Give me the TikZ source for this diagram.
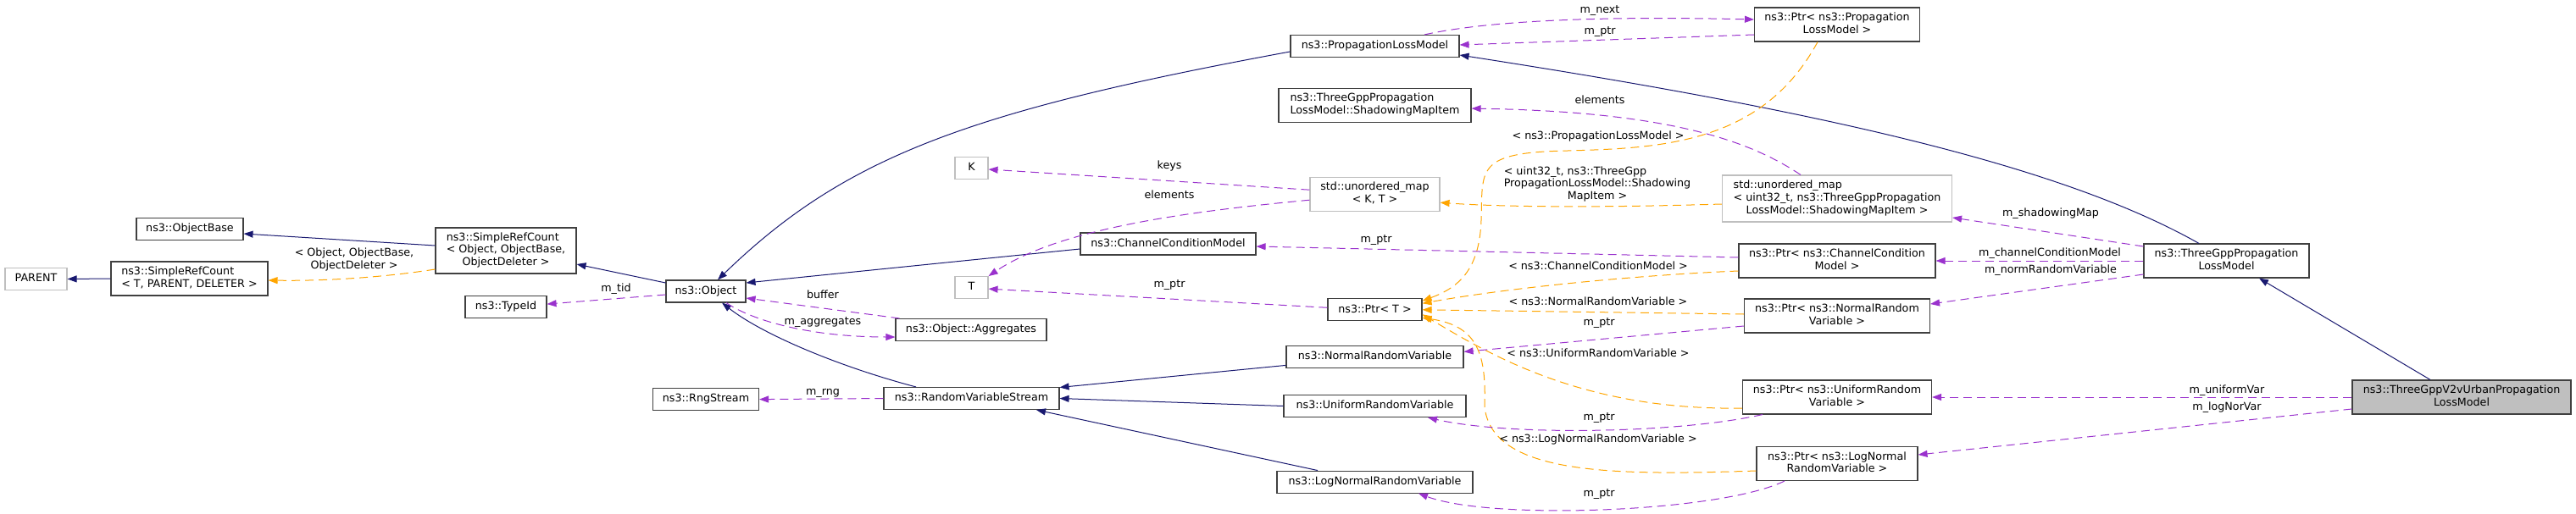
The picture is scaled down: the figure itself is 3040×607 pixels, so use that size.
\documentclass[tikz,border=0pt]{standalone}
\usepackage{fontspec}
\setmainfont{DejaVu Sans}
\usetikzlibrary{positioning,arrows.meta}
\definecolor{inheritblue}{HTML}{191970}
\definecolor{templorange}{HTML}{FFA500}
\definecolor{memberpurple}{HTML}{9A32CD}
\definecolor{boxline}{HTML}{404040}
\definecolor{boxgrey}{HTML}{BFBFBF}
\newcommand{\nodefont}{\fontsize{12.7pt}{14.7pt}\selectfont}
\newcommand{\twoln}[2]{\begin{tabular}{@{}l@{}}#1\\\multicolumn{1}{@{}c@{}}{#2}\end{tabular}}
\newcommand{\threeln}[3]{\begin{tabular}{@{}l@{}}#1\\#2\\\multicolumn{1}{@{}c@{}}{#3}\end{tabular}}

\begin{document}
\begin{tikzpicture}[x=1pt, y=-1pt,
            classbox/.style={rectangle, draw=boxline, line width=1.1pt, fill=white, inner sep=0pt, minimum height=26pt, font=\nodefont},
            classnode/.style={classbox, text height=9.3pt, text depth=2.9pt},
            multinode/.style={classbox},
            greynode/.style={classnode, draw=boxgrey},
            greymulti/.style={classbox, draw=boxgrey},
            focusnode/.style={classbox, fill=boxgrey},
            labelnode/.style={inner sep=0pt, font=\nodefont, text height=9.3pt, text depth=2.9pt},
            labelmulti/.style={inner sep=0pt, font=\nodefont},
            inheritline/.style={draw=inheritblue, line width=1pt, -{Triangle[length=11pt,width=8pt]}},
            templateline/.style={draw=templorange, line width=1pt, dash pattern=on 10pt off 6pt, -{Triangle[length=11pt,width=8pt]}},
            memberline/.style={draw=memberpurple, line width=1pt, dash pattern=on 10pt off 6pt, -{Triangle[length=11pt,width=8pt]}},
        ]
        \useasboundingbox (0,0) rectangle (3040,607);

        \node[greynode, minimum width=73pt] (parent) at (42.5,329.5) {PARENT};
        \node[classnode, minimum width=126pt] (objectbase) at (224,270.5) {ns3::ObjectBase};
        \node[multinode, minimum width=185pt, minimum height=40pt] (srctpd) at (223.5,329) {\twoln{ns3::SimpleRefCount}{< T, PARENT, DELETER >}};
        \node[multinode, minimum width=166pt, minimum height=54pt] (srcobj) at (597,296) {\threeln{ns3::SimpleRefCount}{< Object, ObjectBase,}{ObjectDeleter >}};
        \node[classnode, minimum width=96pt] (typeid) [below=25.5pt of srcobj] {ns3::TypeId};
        \node[classnode, minimum width=94pt] (object) at (833,344) {ns3::Object};
        \node[classnode, minimum width=125pt] (rngstream) [below=100.5pt of object] {ns3::RngStream};
        \node[classnode, minimum width=178pt] (aggregates) at (1146,389.5) {ns3::Object::Aggregates};
        \node[classnode, minimum width=207pt] (rvs) at (1146.5,470.5) {ns3::RandomVariableStream};
        \node[greynode, minimum width=39pt] (k) at (1146.5,198.5) {K};
        \node[greynode, minimum width=39pt] (t) [below=114pt of k] {T};
        \node[classnode, minimum width=207pt] (ccm) at (1378.5,288) {ns3::ChannelConditionModel};
        \node[classnode, minimum width=199pt] (plm) at (1622.5,54.5) {ns3::PropagationLossModel};
        \node[multinode, minimum width=227pt, minimum height=40pt] (smi) [below=35.5pt of plm] {\twoln{ns3::ThreeGppPropagation}{LossModel::ShadowingMapItem}};
        \node[greymulti, minimum width=153pt, minimum height=40pt] (umapkt) [below=64pt of smi] {\twoln{std::unordered\_map}{< K, T >}};
        \node[classnode, minimum width=111pt] (ptrt) [below=102.5pt of umapkt] {ns3::Ptr< T >};
        \node[classnode, minimum width=209pt] (normalrv) [below=28.5pt of ptrt] {ns3::NormalRandomVariable};
        \node[classnode, minimum width=215pt] (uniformrv) [below=31pt of normalrv] {ns3::UniformRandomVariable};
        \node[classnode, minimum width=231pt] (lognormalrv) [below=62.5pt of uniformrv] {ns3::LogNormalRandomVariable};
        \node[multinode, minimum width=195pt, minimum height=40pt] (ptrplm) at (2168,29) {\twoln{ns3::Ptr< ns3::Propagation}{LossModel >}};
        \node[greymulti, minimum width=271pt, minimum height=55pt] (umapsmi) at (2168,234.5) {\threeln{std::unordered\_map}{< uint32\_t, ns3::ThreeGppPropagation}{LossModel::ShadowingMapItem >}};
        \node[multinode, minimum width=232pt, minimum height=40pt] (ptrccm) at (2168,308) {\twoln{ns3::Ptr< ns3::ChannelCondition}{Model >}};
        \node[multinode, minimum width=219pt, minimum height=40pt] (ptrnormal) at (2168,373) {\twoln{ns3::Ptr< ns3::NormalRandom}{Variable >}};
        \node[multinode, minimum width=223pt, minimum height=40pt] (ptruniform) at (2168,469) {\twoln{ns3::Ptr< ns3::UniformRandom}{Variable >}};
        \node[multinode, minimum width=190pt, minimum height=40pt] (ptrlognormal) at (2168,547.5) {\twoln{ns3::Ptr< ns3::LogNormal}{RandomVariable >}};
        \node[multinode, minimum width=195pt, minimum height=40pt] (threegpp) at (2627.5,308) {\twoln{ns3::ThreeGppPropagation}{LossModel}};
        \node[focusnode, minimum width=258pt, minimum height=40pt] (v2v) at (2905,469) {\twoln{ns3::ThreeGppV2vUrbanPropagation}{LossModel}};

        % inheritance
        \draw[inheritline] (srctpd.west) -- (parent.east);
        \draw[inheritline] ([yshift=6pt]srcobj.west) -- ([yshift=-5.5pt]objectbase.east);
        \draw[inheritline] ([yshift=10pt]object.west) -- ([yshift=-16pt]srcobj.east);
        \draw[inheritline] ([yshift=-6.5pt]plm.west) .. controls (1143,131) and (997,185) .. ([xshift=14pt]object.north);
        \draw[inheritline] ([yshift=-6pt]ccm.west) -- ([yshift=10pt]object.east);
        \draw[inheritline] ([xshift=-65.5pt]rvs.north) .. controls (990,433) and (900,395) .. ([xshift=19pt]object.south);
        \draw[inheritline] ([yshift=-10pt]normalrv.west) -- ([yshift=13pt]rvs.east);
        \draw[inheritline] (uniformrv.west) -- (rvs.east);
        \draw[inheritline] ([xshift=-67.5pt]lognormalrv.north) -- ([xshift=76.5pt]rvs.south);
        \draw[inheritline] ([xshift=-32.5pt]threegpp.north) .. controls (2425,191) and (2122,127) .. ([yshift=-10.5pt]plm.east);
        \draw[inheritline] ([xshift=-37pt]v2v.north) -- ([xshift=38.5pt]threegpp.south);

        % template instances
        \draw[templateline] ([yshift=-22pt]srcobj.west) .. controls (450,328) and (380,332) .. ([yshift=-2pt]srctpd.east)
            node[labelmulti] (lsrc) at (418,307) {\twoln{< Object, ObjectBase,}{ObjectDeleter >}};
        \draw[templateline] ([xshift=-23pt]ptrplm.south) .. controls (2080,170) and (1960,175) .. (1850,178)
            .. controls (1740,180) and (1750,200) .. (1748,260) .. controls (1746,320) and (1720,340) .. ([yshift=10.5pt]ptrt.east)
            node[labelnode] (lptrplm) at (1886,161) {< ns3::PropagationLossModel >};
        \draw[templateline] ([yshift=-6.5pt]umapsmi.west) .. controls (1900,245) and (1780,245) .. ([yshift=-10pt]umapkt.east)
            node[labelmulti] (lumap) at (1885,218) {\threeln{< uint32\_t, ns3::ThreeGpp}{PropagationLossModel::Shadowing}{MapItem >}};
        \draw[templateline] ([yshift=-12pt]ptrccm.west) .. controls (1930,325) and (1780,340) .. ([yshift=7.5pt]ptrt.east)
            node[labelnode] (lptrccm) at (1886,315) {< ns3::ChannelConditionModel >};
        \draw[templateline] ([yshift=2pt]ptrnormal.west) -- (ptrt.east)
            node[labelnode] (lptrnormal) at (1886,357) {< ns3::NormalRandomVariable >};
        \draw[templateline] ([yshift=-13pt]ptruniform.west) .. controls (1870,485) and (1760,420) .. ([yshift=-5.5pt]ptrt.east)
            node[labelnode] (lptruniform) at (1886,418) {< ns3::UniformRandomVariable >};
        \draw[templateline] ([yshift=-8.5pt]ptrlognormal.west) .. controls (1900,562) and (1760,560) .. (1752,480)
            .. controls (1754,420) and (1745,385) .. ([yshift=-9.5pt]ptrt.east)
            node[labelnode] (lptrlognormal) at (1886,519) {< ns3::LogNormalRandomVariable >};

        % members
        \draw[memberline] ([yshift=-4pt]object.west) -- ([yshift=3.5pt]typeid.east) node[labelnode] (ltid) at (727,341) {m\_tid};
        \draw[memberline] ([xshift=5pt]aggregates.north west) -- ([yshift=-8pt]object.east) node[labelnode] (lbuffer) at (971,349) {buffer};
        \draw[memberline] ([xshift=24pt]object.south) .. controls (890,380) and (960,398) .. ([yshift=-8.5pt]aggregates.west)
            node[labelnode] (laggr) at (971,380) {m\_aggregates};
        \draw[memberline] (rvs.west) -- (rngstream.east) node[labelnode] (lrng) at (971,463) {m\_rng};
        \draw[memberline] ([xshift=58.5pt]plm.north) .. controls (1740,28) and (1850,18) .. ([yshift=6pt]ptrplm.west)
            node[labelnode] (lnext) at (1888,12) {m\_next};
        \draw[memberline] ([yshift=-12pt]ptrplm.west) -- ([yshift=1.5pt]plm.east) node[labelnode] (lptr1) at (1888,37) {m\_ptr};
        \draw[memberline] ([xshift=-43pt]umapsmi.north) .. controls (2070,170) and (1980,132) .. ([yshift=-4pt]smi.east)
            node[labelnode] (lelem1) at (1888,119) {elements};
        \draw[memberline] ([yshift=5pt]umapkt.west) -- ([yshift=-1.5pt]k.east) node[labelnode] (lkeys) at (1380,196) {keys};
        \draw[memberline] ([yshift=-7pt]umapkt.west) .. controls (1400,250) and (1250,270) .. (t.north east)
            node[labelnode] (lelem2) at (1380,231) {elements};
        \draw[memberline] ([yshift=2.5pt]ptrt.west) -- ([yshift=-1.5pt]t.east) node[labelnode] (lptr2) at (1380,336) {m\_ptr};
        \draw[memberline] ([yshift=4pt]ptrccm.west) -- ([yshift=-3pt]ccm.east) node[labelnode] (lptr3) at (1624,283) {m\_ptr};
        \draw[memberline] ([yshift=-12pt]ptrnormal.west) -- ([yshift=6pt]normalrv.east) node[labelnode] (lptr4) at (1887,381) {m\_ptr};
        \draw[memberline] ([xshift=-88pt]ptruniform.south) .. controls (1980,512) and (1780,515) .. ([xshift=62.5pt]uniformrv.south)
            node[labelnode] (lptr5) at (1887,493) {m\_ptr};
        \draw[memberline] ([xshift=-62pt]ptrlognormal.south) .. controls (2030,605) and (1760,615) .. ([xshift=51.5pt]lognormalrv.south)
            node[labelnode] (lptr6) at (1887,583) {m\_ptr};
        \draw[memberline] ([yshift=17pt]threegpp.west) -- ([yshift=-22.5pt]umapsmi.east) node[labelnode] (lshadow) at (2420,252) {m\_shadowingMap};
        \draw[memberline] (threegpp.west) -- (ptrccm.east) node[labelnode] (lchannel) at (2419,299) {m\_channelConditionModel};
        \draw[memberline] ([yshift=-16pt]threegpp.west) -- ([yshift=14pt]ptrnormal.east) node[labelnode] (lnorm) at (2420,319) {m\_normRandomVariable};
        \draw[memberline] (v2v.west) -- (ptruniform.east) node[labelnode] (luniform) at (2628,461) {m\_uniformVar};
        \draw[memberline] ([yshift=-14pt]v2v.west) -- ([yshift=10.5pt]ptrlognormal.east) node[labelnode] (llognor) at (2628,481) {m\_logNorVar};

    \end{tikzpicture}
\end{document}
